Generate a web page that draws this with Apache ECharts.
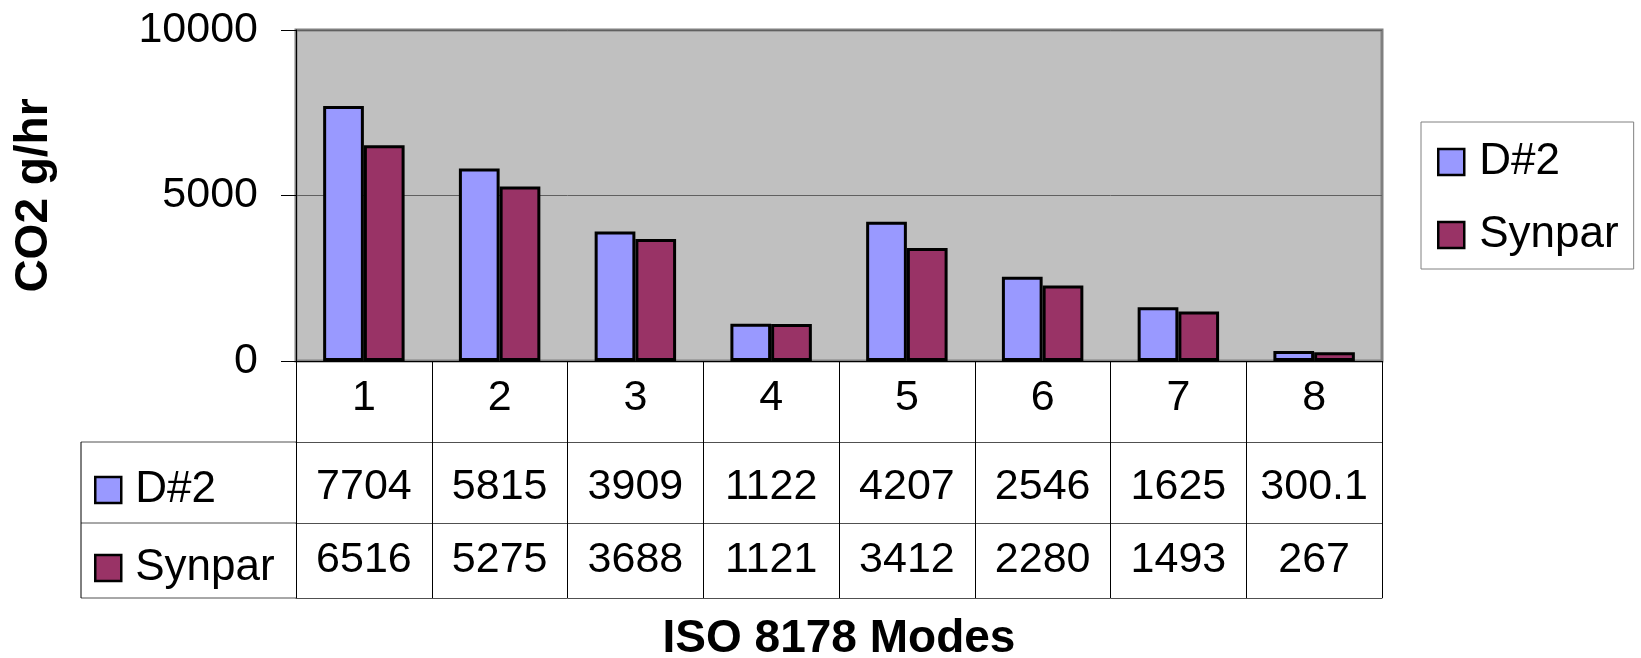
<!DOCTYPE html>
<html>
<head>
    <meta charset="utf-8">
    <title>CO2 g/hr - ISO 8178 Modes</title>
    <style type="text/css">
        body{ margin:0; background:#fff; }
        #main{ width:1641px; height:658px; }
    </style>
    <script src="https://cdn.jsdelivr.net/npm/echarts@6.0.0/dist/echarts.min.js"></script>
</head>
<body>
    <div id="main"></div>
    <script type="text/javascript">
// data
var modes = ['1', '2', '3', '4', '5', '6', '7', '8'];
var d2 = [7704, 5815, 3909, 1122, 4207, 2546, 1625, 300.1];
var synpar = [6516, 5275, 3688, 1121, 3412, 2280, 1493, 267];
var seriesNames = ['D#2', 'Synpar'];
var yTicks = [0, 5000, 10000];

var FONT = "'Liberation Sans', Arial, sans-serif";
var colors = ['#9999FF', '#993366'];

// layout of the grid + data table under it
var W = 1641, H = 658;
var gLeft = 296, gRight = 1382, gTop = 30, gBottom = 361;
var row1 = 81, row2 = 81, row3 = 75;   // header row, D#2 row, Synpar row
var tableLeft = 81;

var myChart = echarts.init(document.getElementById('main'));

var lineY1 = gBottom + row1;
var lineY2 = lineY1 + row2;
var lineY3 = lineY2 + row3;

var option = {
    color: colors,
    textStyle: { fontFamily: FONT, color: '#000' },
    grid: {
        left: gLeft,
        right: W - gRight,
        top: gTop,
        bottom: H - gBottom,
        outerBoundsMode: 'none',   // keep grid where it is, names may sit near the edge
        show: true,
        backgroundColor: '#C0C0C0',
        borderColor: '#808080',
        borderWidth: 3
    },
    legend: [
        {
            // legend box on the right
            data: seriesNames,
            orient: 'vertical',
            left: 1421,
            top: 122,
            padding: [18, 15, 12, 16],
            itemGap: 29,
            itemWidth: 26,
            itemHeight: 26,
            icon: 'rect',
            backgroundColor: '#fff',
            borderColor: '#808080',
            borderWidth: 1,
            itemStyle: { borderColor: '#000', borderWidth: 2.5 },
            textStyle: { fontSize: 44, lineHeight: 44, fontFamily: FONT, color: '#000', padding: [0, 0, 0, 10] }
        },
        {
            // keys inside the data table
            data: seriesNames,
            orient: 'vertical',
            left: 94,
            top: 468,
            padding: 0,
            itemGap: 34,
            itemWidth: 26,
            itemHeight: 26,
            icon: 'rect',
            itemStyle: { borderColor: '#000', borderWidth: 2.5 },
            textStyle: { fontSize: 44, lineHeight: 44, fontFamily: FONT, color: '#000', padding: [0, 0, 0, 9] }
        }
    ],
    xAxis: [
        {   // category header row
            type: 'category',
            data: modes,
            position: 'bottom',
            axisLine: { onZero: false, lineStyle: { color: '#000', width: 1 } },
            axisTick: { show: true, length: row1, lineStyle: { color: '#000', width: 1 } },
            axisLabel: { fontSize: 43, lineHeight: 43, margin: 16, color: '#000', fontFamily: FONT, interval: 0 },
            splitLine: { show: false }
        },
        {   // D#2 row
            type: 'category',
            data: modes,
            position: 'bottom',
            offset: row1,
            axisLine: { onZero: false, lineStyle: { color: '#505050', width: 1 } },
            axisTick: { show: true, length: row2, lineStyle: { color: '#000', width: 1 } },
            axisLabel: {
                fontSize: 43, lineHeight: 43, margin: 24, color: '#000', fontFamily: FONT, interval: 0,
                formatter: function (v, i) { return String(d2[i]); }
            }
        },
        {   // Synpar row
            type: 'category',
            data: modes,
            position: 'bottom',
            offset: row1 + row2,
            axisLine: { onZero: false, lineStyle: { color: '#505050', width: 1 } },
            axisTick: { show: true, length: row3, lineStyle: { color: '#000', width: 1 } },
            axisLabel: {
                fontSize: 43, lineHeight: 43, margin: 16, color: '#000', fontFamily: FONT, interval: 0,
                formatter: function (v, i) { return String(synpar[i]); }
            }
        },
        {   // bottom edge of the table + axis title
            type: 'category',
            data: modes,
            position: 'bottom',
            offset: row1 + row2 + row3,
            name: 'ISO 8178 Modes',
            nameLocation: 'middle',
            nameGap: 18,
            nameTextStyle: { fontSize: 46, lineHeight: 46, fontWeight: 'bold', color: '#000', fontFamily: FONT },
            axisLine: { onZero: false, lineStyle: { color: '#505050', width: 1 } },
            axisTick: { show: false },
            axisLabel: { show: false }
        }
    ],
    yAxis: {
        type: 'value',
        min: yTicks[0],
        max: yTicks[yTicks.length - 1],
        interval: yTicks[1] - yTicks[0],
        name: 'CO2 g/hr',
        nameLocation: 'middle',
        nameGap: 239,
        nameTextStyle: { fontSize: 46, lineHeight: 46, fontWeight: 'bold', color: '#000', fontFamily: FONT },
        axisLine: { show: true, lineStyle: { color: '#000', width: 1 } },
        axisTick: { show: true, length: 15, lineStyle: { color: '#000', width: 1 } },
        axisLabel: {
            fontSize: 43, margin: 38, color: '#000', fontFamily: FONT,
            formatter: function (v) { return String(v); }
        },
        splitLine: { show: true, lineStyle: { color: '#606060', width: 1 } }
    },
    series: [
        {
            name: seriesNames[0],
            type: 'bar',
            data: d2,
            barGap: '0%',
            barCategoryGap: '40%',
            itemStyle: { borderColor: '#000', borderWidth: 3 }
        },
        {
            name: seriesNames[1],
            type: 'bar',
            data: synpar,
            barGap: '0%',
            barCategoryGap: '40%',
            itemStyle: { borderColor: '#000', borderWidth: 3 }
        }
    ],
    // left column of the table (series keys live in legend[1])
    graphic: [
        { type: 'line', shape: { x1: tableLeft, y1: lineY1, x2: gLeft, y2: lineY1 }, style: { stroke: '#505050', lineWidth: 1 } },
        { type: 'line', shape: { x1: tableLeft, y1: lineY2, x2: gLeft, y2: lineY2 }, style: { stroke: '#505050', lineWidth: 1 } },
        { type: 'line', shape: { x1: tableLeft, y1: lineY3, x2: gLeft, y2: lineY3 }, style: { stroke: '#505050', lineWidth: 1 } },
        { type: 'line', shape: { x1: tableLeft, y1: lineY1, x2: tableLeft, y2: lineY3 }, style: { stroke: '#000', lineWidth: 1 } }
    ]
};

myChart.setOption(option);
    </script>
</body>
</html>
